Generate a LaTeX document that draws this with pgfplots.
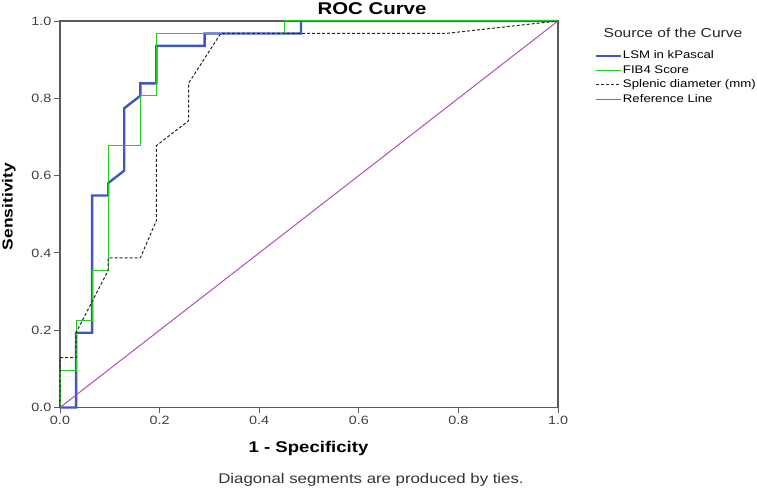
\documentclass[border=0pt]{standalone}
\usepackage{fontspec}
\setmainfont{Liberation Sans}[FakeStretch=1.2]
\usepackage{pgfplots}
\pgfplotsset{compat=1.18}
\definecolor{lsmblue}{RGB}{62,88,190}
\definecolor{fibgreen}{RGB}{40,200,40}
\definecolor{refpurple}{RGB}{175,80,180}
\definecolor{axgray}{RGB}{90,90,90}
\begin{document}
\begin{tikzpicture}[x=1bp,y=1bp]
\path[use as bounding box] (0,0) rectangle (757,488);
\begin{axis}[
  at={(60bp,80.5bp)}, anchor=south west,
  scale only axis, width=498bp, height=386.5bp,
  xmin=0, xmax=1, ymin=0, ymax=1,
  clip=false,
  axis line style={axgray, line width=1.1pt},
  xtick={0,0.2,0.4,0.6,0.8,1}, ytick={0,0.2,0.4,0.6,0.8,1},
  xticklabels={0.0,0.2,0.4,0.6,0.8,1.0},
  yticklabels={0.0,0.2,0.4,0.6,0.8,1.0},
  xtick pos=bottom, ytick pos=left,
  tick align=outside, major tick length=6bp,
  tick style={axgray, line width=0.8pt},
  tick label style={font=\fontsize{12bp}{14bp}\selectfont, text=black!75},
  xticklabel style={yshift=1bp},
  yticklabel style={xshift=1bp},
  legend style={at={(1.068,0.93)}, anchor=north west, draw=none, fill=none,
    font=\fontsize{11bp}{13bp}\selectfont, row sep=3bp,
    nodes={inner sep=0.5bp, text height=8bp, text depth=2.5bp}},
  legend cell align=left,
  legend image code/.code={\draw[#1] (0bp,0bp) -- (25bp,0bp);},
]
\addplot[lsmblue, line width=2.4bp] coordinates {
(0,0) (0.0323,0) (0.0323,0.1935) (0.0645,0.1935) (0.0645,0.5484) (0.0968,0.5484)
(0.0968,0.5806) (0.1290,0.6129) (0.1290,0.7742) (0.1613,0.8065) (0.1613,0.8387)
(0.1935,0.8387) (0.1935,0.9355) (0.2903,0.9355) (0.2903,0.9677) (0.4839,0.9677)
(0.4839,1) (1,1)};
\addlegendentry{LSM in kPascal}
\addplot[fibgreen, line width=1bp] coordinates {
(0,0) (0,0.0968) (0.0323,0.0968) (0.0323,0.2258) (0.0645,0.2258) (0.0645,0.3548)
(0.0968,0.3548) (0.0968,0.6774) (0.1613,0.6774) (0.1613,0.8065) (0.1935,0.8065)
(0.1935,0.9677) (0.4516,0.9677) (0.4516,1) (1,1)};
\addlegendentry{FIB4 Score}
\addplot[black!85, line width=1bp, dash pattern=on 3bp off 2bp] coordinates {
(0,0) (0,0.1290) (0.0323,0.1290) (0.0323,0.1935) (0.0968,0.3548) (0.0968,0.3871)
(0.1613,0.3871) (0.1935,0.4839) (0.1935,0.6774) (0.2581,0.7419) (0.2581,0.8387)
(0.3226,0.9677) (0.7742,0.9677) (1,1)};
\addlegendentry{Splenic diameter (mm)}
\addplot[refpurple, line width=1bp] coordinates {(0,0) (1,1)};
\addlegendentry{Reference Line}
\end{axis}
\node[anchor=base, font=\bfseries\fontsize{17bp}{20bp}\selectfont] at (372,473) {ROC Curve};
\node[anchor=base, font=\bfseries\fontsize{15.5bp}{18bp}\selectfont] at (308.5,35) {1 - Specificity};
\node[rotate=90, font=\bfseries\fontsize{14.5bp}{17bp}\selectfont] at (9,281.5) {Sensitivity};
\node[anchor=base, font=\fontsize{14bp}{16bp}\selectfont, text=black!80] at (371,4) {Diagonal segments are produced by ties.};
\node[anchor=base, font=\fontsize{13bp}{15bp}\selectfont, text=black!85] at (673,450) {Source of the Curve};
\end{tikzpicture}
\end{document}
